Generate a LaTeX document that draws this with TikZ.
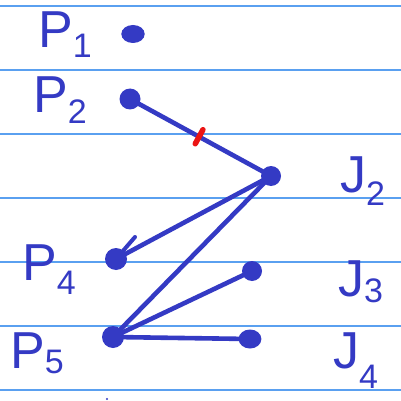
\documentclass[tikz,border=0pt]{standalone}
\usepackage{fontspec}
\setmainfont{Liberation Sans}
\usetikzlibrary{calc}
\definecolor{ink}{RGB}{52,58,196}
\definecolor{paperrule}{RGB}{90,160,240}
\definecolor{redink}{RGB}{235,20,20}
\begin{document}
\begin{tikzpicture}[x=1pt,y=-1pt,
  rulebar/.style={fill=paperrule,draw=none},
  edge/.style={ink,line width=4.6pt,line cap=round},
  pt/.style={circle,fill=ink,inner sep=0pt,minimum size=#1},
  lbl/.style={ink,font=\fontsize{52}{52}\selectfont,inner sep=0pt,anchor=base west}]
\useasboundingbox (0,0) rectangle (401,401);
\fill[white] (0,0) rectangle (401,401);
% ruled lines
\foreach \y in {5,69,133,197,261,325,389}
  \fill[rulebar] (0,\y) rectangle (401,\y+2);
% points
\node[pt=18pt,xscale=1.3] (p1) at (133,34) {};
\node[pt=21pt] (p2) at (130,99) {};
\node[pt=20pt] (j2) at (271,176) {};
\node[pt=22pt] (p4) at (116,259) {};
\node[pt=20pt] (j3) at (252,271) {};
\node[pt=22pt] (p5) at (113,337) {};
\node[pt=19pt,xscale=1.2] (j4) at (250,339) {};
\coordinate (tick) at (135,237);
\coordinate (dotb) at (107,399);
% connectors
\draw[edge] (p2.center) -- (j2.center) coordinate[pos=0.49] (mid);
\draw[edge] (j2.center) -- (p4.center);
\draw[edge] (j2.center) -- (p5.center);
\draw[edge] (p5.center) -- (j3.center);
\draw[edge] (p5.center) -- (j4.center);
\draw[edge,line width=4pt] (p4.center) -- (tick);
\fill[ink] (dotb) circle (1.2pt);
% red mark across P2-J2
\draw[redink,line width=5.5pt,line cap=round] ($(mid)!8pt!90:(j2)$) -- ($(mid)!8pt!-90:(j2)$);
% labels
\node[lbl] (lp1) at (38,48) {P\raisebox{-10pt}{\fontsize{34}{34}\selectfont 1}};
\node[lbl] (lp2) at (33,113) {P\raisebox{-10pt}{\fontsize{34}{34}\selectfont 2}};
\node[lbl] (lp4) at (22,280) {P\raisebox{-14pt}{\fontsize{34}{34}\selectfont 4}};
\node[lbl] (lp5) at (10,368) {P\raisebox{-5pt}{\fontsize{34}{34}\selectfont 5}};
\node[lbl] (lj2) at (340,192) {J\raisebox{-13pt}{\fontsize{34}{34}\selectfont 2}};
\node[lbl] (lj3) at (338,296) {J\raisebox{-6pt}{\fontsize{34}{34}\selectfont 3}};
\node[lbl] (lj4) at (333,368) {J\raisebox{-20pt}{\fontsize{34}{34}\selectfont 4}};
\end{tikzpicture}
\end{document}
